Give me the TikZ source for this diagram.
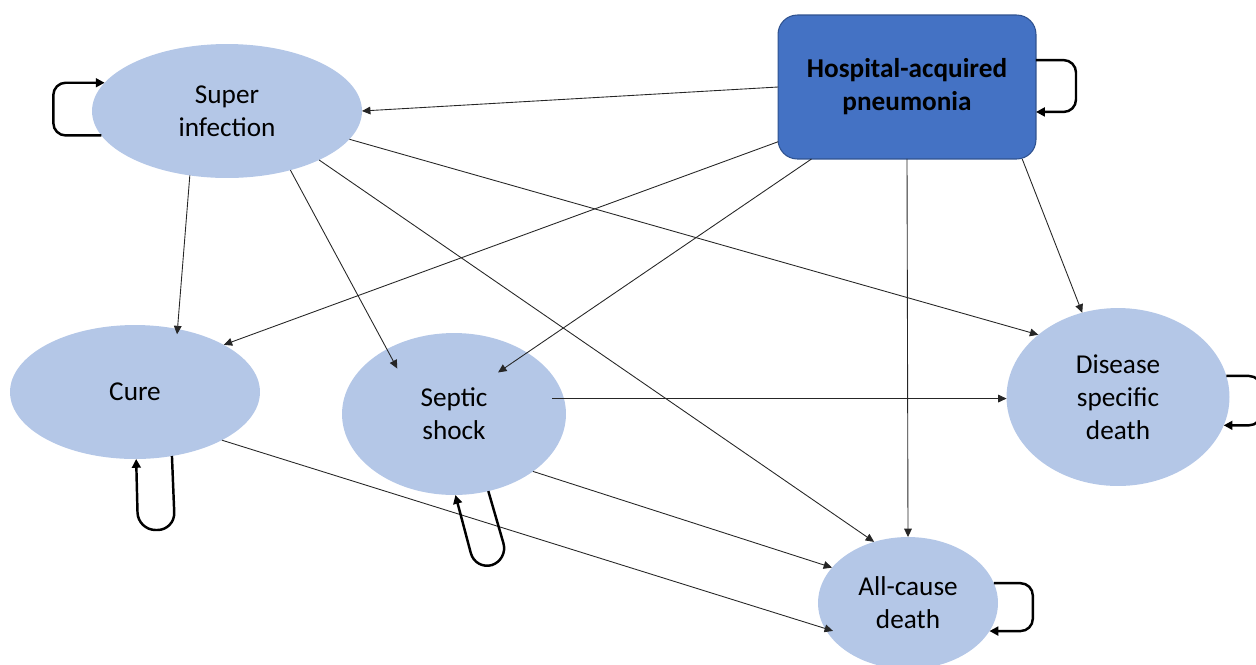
\documentclass[tikz,border=0pt]{standalone}
\usepackage{fontspec}
\setmainfont{Carlito}
\usetikzlibrary{shapes.geometric,arrows.meta}
\definecolor{statefill}{HTML}{B4C7E7}
\definecolor{hapfill}{HTML}{4472C4}
\definecolor{hapline}{HTML}{2F528F}
\newcommand{\statefont}{\fontsize{15.5}{18.7}\selectfont}
\tikzset{stateoval/.style={
    ellipse, fill=statefill, inner sep=0pt, outer sep=0pt, align=center, font=\statefont},
  hapbox/.style={
    rectangle, rounded corners=11pt, fill=hapfill, draw=hapline, line width=0.6pt,
    inner sep=0pt, outer sep=0pt, align=center, font=\statefont\bfseries},
  trans/.style={-{Triangle[length=4.8pt,width=4.4pt]}, line width=0.5pt, black!85},
  selfloop/.style={-{Triangle[length=5pt,width=5pt]}, line width=1.4pt, rounded corners=7pt}
}

\begin{document}
\begin{tikzpicture}[x=0.02cm, y=-0.02cm]
        \useasboundingbox (0,0) rectangle (1256,664);
        %states
        \node[hapbox, minimum width=5.16cm, minimum height=2.88cm](hap) at (907,87){Hospital-acquired\\pneumonia};
        \node[stateoval, minimum width=5.4cm, minimum height=2.68cm](super) at (227,111){Super\\infection};
        \node[stateoval, minimum width=5.0cm, minimum height=2.68cm](cure) at (135,392){Cure};
        \node[stateoval, minimum width=4.48cm, minimum height=3.24cm](septic) at (454,414){Septic\\shock};
        \node[stateoval, minimum width=4.46cm, minimum height=3.56cm](disease) at (1118,397){Disease\\specific\\death};
        \node[stateoval, minimum width=3.6cm, minimum height=2.64cm](all) at (908,603){All-cause\\death};

        %from pneumonia
        \draw[trans] (hap.west) -- (super.east);
        \draw[trans] (hap.203) -- (cure.28);
        \draw[trans, shorten >=-20pt] (hap.217) -- (septic.40);
        \draw[trans] (hap.south) -- (all.north);
        \draw[trans] (hap.-32) -- (disease.113);

        %from super infection
        \draw[trans, shorten >=-3pt] (super.-120) -- (cure.56);
        \draw[trans, shorten >=-12.5pt] (super.-43) -- (septic.136);
        \draw[trans] (super.-28) -- (all.119);
        \draw[trans] (super.-13) -- (disease.142);

        %from septic shock and cure
        \draw[trans, shorten <=-6.7pt] (septic.8) -- (septic.8 -| disease.west);
        \draw[trans] (septic.-36) -- (all.155);
        \draw[trans, shorten >=-4.8pt] (cure.-29) -- (all.197);

        %self loops
        \draw[selfloop] (super.191) -- ++(-48,0) |- (super.167);
        \draw[selfloop] ([yshift=15.3pt]hap.east) -- ++(40,0) |- ([yshift=-14.2pt]hap.east);
        \draw[selfloop, rounded corners=10pt] (cure.-60) -- ++(3,74) -- ++(-37,0) -- (cure.-89);
        \draw[selfloop, rounded corners=10pt] (septic.-66) -- ++(20,69) -- ++(-33,10) -- (septic.-89);
        \draw[selfloop] (disease.11) -- ++(35,0) |- (disease.-15);
        \draw[selfloop] (all.13) -- ++(39,0) |- (all.-19);
\end{tikzpicture}
\end{document}
